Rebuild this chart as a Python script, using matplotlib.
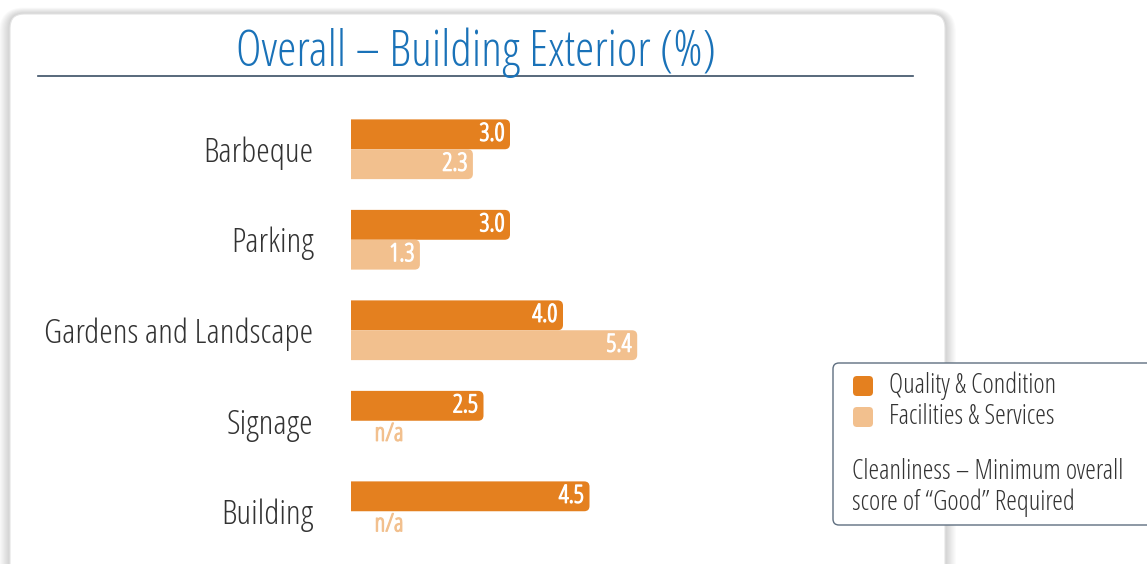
import matplotlib
matplotlib.use("Agg")
import matplotlib.pyplot as plt
import matplotlib.patheffects as pe
from matplotlib.patches import FancyBboxPatch

plt.rcParams['font.family'] = ['Open Sans', 'DejaVu Sans']
plt.rcParams['font.stretch'] = 'condensed'
plt.rcParams['font.weight'] = 300

# data
categories = ['Barbeque', 'Parking', 'Gardens and Landscape', 'Signage', 'Building']
series_names = ['Quality & Condition', 'Facilities & Services']
quality = [3.0, 3.0, 4.0, 2.5, 4.5]
facilities = [2.3, 1.3, 5.4, None, None]
title = 'Overall \u2013 Building Exterior (%)'
note_lines = ['Cleanliness \u2013 Minimum overall', 'score of \u201cGood\u201d Required']

c_dark = '#e4801f'
c_light = '#f2c08e'
c_text = '#333333'

W, H = 1147, 564
fig = plt.figure(figsize=(W / 100, H / 100), dpi=100)
fig.patch.set_facecolor('white')

# background card, drawn in pixel coords
bg = fig.add_axes([0, 0, 1, 1], zorder=0)
bg.set_xlim(0, W)
bg.set_ylim(H, 0)
bg.axis('off')
for k in range(9):
    d = 1.2 * (k + 1)
    bg.add_patch(FancyBboxPatch((10 - d, 14 - d * 0.6), 935 + 2 * d, 620,
                                boxstyle='round,pad=0,rounding_size=%f' % (14 + d),
                                fc='black', ec='none', alpha=0.02))
bg.add_patch(FancyBboxPatch((10, 14), 935, 620, boxstyle='round,pad=0,rounding_size=14',
                            fc='white', ec='#e4e4e4', lw=0.8))
bg.text(476, 53, title, ha='center', va='center', fontsize=35.5, color='#1a72b8')
bg.plot([38, 913], [76, 76], color='#3b4f65', lw=1.2)

# legend box
bg.add_patch(FancyBboxPatch((833, 363), 330, 162, boxstyle='round,pad=0,rounding_size=6',
                            fc='white', ec='#5f6f80', lw=1.0))
for i, (name, col) in enumerate(zip(series_names, [c_dark, c_light])):
    yy = 386 + 31 * i
    bg.add_patch(FancyBboxPatch((853, yy - 10), 20, 20, boxstyle='round,pad=0,rounding_size=4',
                                fc=col, ec='none'))
    bg.text(889, yy, name, ha='left', va='center', fontsize=19.5, color=c_text)
for i, line in enumerate(note_lines):
    bg.text(852, 472 + 31 * i, line, ha='left', va='center', fontsize=19.5, color=c_text)

# bars
ax = fig.add_axes([351 / W, (H - 556.5) / H, (913 - 351) / W, 452.5 / H], zorder=1)
ax.patch.set_alpha(0)
bh = 0.33
ypos = list(range(len(categories)))
fac_vals = [v if v is not None else 0 for v in facilities]
b1 = ax.barh([y - bh / 2 for y in ypos], quality, height=bh, color=c_dark)
b2 = ax.barh([y + bh / 2 for y in ypos], fac_vals, height=bh, color=c_light)

# swap plain bars for ones with rounded right ends (left end clipped at x=0)
for cont in (b1, b2):
    for r in cont.patches:
        x, y, w, h = r.get_x(), r.get_y(), r.get_width(), r.get_height()
        r.set_visible(False)
        if w <= 0:
            continue
        ax.add_patch(FancyBboxPatch((x - 0.3, y), w + 0.3, h,
                                    boxstyle='round,pad=0,rounding_size=0.1',
                                    mutation_aspect=0.586, fc=r.get_facecolor(), ec='none'))

# light font thickened a little with a stroke of its own colour
lab_kw = dict(textcoords='offset points', va='center', fontsize=18)
for y, v in zip(ypos, quality):
    ax.annotate('%.1f' % v, xy=(v, y - bh / 2), xytext=(-4, 0), ha='right', color='white',
                path_effects=[pe.withStroke(linewidth=0.9, foreground='white')], **lab_kw)
for y, v in zip(ypos, facilities):
    if v is None:
        ax.annotate('n/a', xy=(0, y + bh / 2), xytext=(17, 1), ha='left', color=c_light,
                    path_effects=[pe.withStroke(linewidth=0.9, foreground=c_light)], **lab_kw)
    else:
        ax.annotate('%.1f' % v, xy=(v, y + bh / 2), xytext=(-4, 0), ha='right', color='white',
                    path_effects=[pe.withStroke(linewidth=0.9, foreground='white')], **lab_kw)

ax.set_xlim(0, (913 - 351) / 53)
ax.set_ylim(4.5, -0.5)
ax.set_yticks(ypos)
ax.set_yticklabels(categories, fontsize=24.8, color=c_text)
ax.tick_params(axis='y', length=0, pad=27)
ax.set_xticks([])
for s in ax.spines.values():
    s.set_visible(False)

fig.savefig('out.png', dpi=100)
